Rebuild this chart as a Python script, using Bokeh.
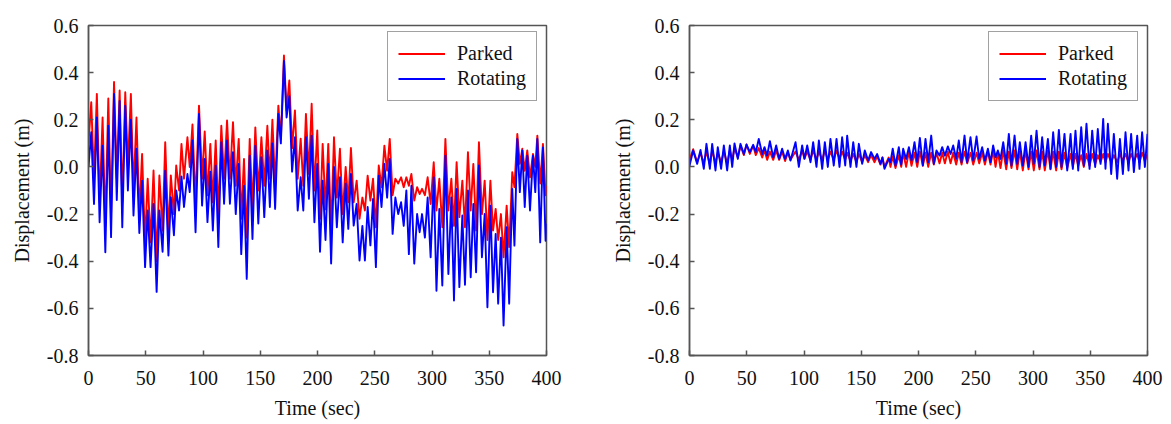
from bokeh.plotting import figure
from bokeh.layouts import row
from bokeh.models import Range1d, FixedTicker, PrintfTickFormatter, Legend, LegendItem
from bokeh.embed import file_html
from bokeh.resources import INLINE

FONT = "Liberation Serif"

# ---------------- data (extrema) ----------------
time_left = [
    0.0,
    2.4, 4.8, 7.3, 9.7, 12.3, 14.7, 17.3, 19.7, 22.3, 24.7, 27.2, 29.5, 32.1, 34.4, 37.0, 39.3,
    41.9, 44.4, 46.8, 49.4, 51.7, 54.2, 56.8, 59.5, 61.9, 64.7, 67.0, 69.8, 71.9, 74.6, 76.6, 79.1,
    81.2, 83.4, 86.4, 88.4, 90.8, 93.5, 96.5, 99.2, 101.5, 103.9, 106.4, 108.6, 111.1, 113.4, 116.0, 118.4,
    121.0, 123.5, 126.2, 128.6, 131.2, 133.4, 135.8, 138.2, 140.8, 143.2, 145.7, 148.3, 151.0, 153.5, 156.2, 158.4,
    160.6, 163.0, 165.8, 168.0, 170.7, 173.0, 175.4, 177.8, 180.3, 182.7, 185.3, 187.6, 189.9, 192.5, 194.9, 197.3,
    199.8, 202.2, 204.5, 207.0, 209.4, 211.9, 214.4, 216.9, 219.6, 222.0, 224.6, 226.9, 229.2, 231.6, 234.2, 236.7,
    239.2, 241.4, 243.8, 246.2, 248.5, 251.0, 253.5, 255.9, 258.4, 260.8, 263.1, 265.6, 268.0, 270.5, 273.0, 275.3,
    277.6, 279.8, 282.0, 284.5, 287.0, 289.2, 291.3, 293.8, 296.2, 298.8, 301.5, 303.9, 306.4, 309.0, 311.7, 314.3,
    316.9, 319.2,
    321.5, 323.9, 326.5, 328.8, 331.4, 333.8, 336.1, 338.5, 341.0, 343.6, 346.0, 348.4, 351.0, 353.3, 355.6, 357.8,
    360.2, 362.5, 365.2, 367.4, 370.1, 372.0, 374.5, 376.7, 378.9, 381.0, 383.2, 385.6, 388.2, 390.2, 392.0, 394.5,
    396.9, 399.2,
    400.0,
]

parked_left = [
    0.10,
    0.275, -0.05, 0.31, -0.15, 0.21, -0.25, 0.29, -0.2, 0.36, -0.05, 0.324, -0.15, 0.317, 0.0, 0.31, -0.1,
    0.21, -0.2, 0.055, -0.32, -0.05, -0.32, -0.015, -0.4, -0.036, -0.27, 0.105, -0.28, -0.036, -0.2, 0.006, -0.1,
    0.098, -0.05, 0.126, 0.0, 0.18, -0.15, 0.26, -0.05, 0.15, -0.12, 0.098, -0.15, 0.112, -0.2, 0.175, -0.05,
    0.197, -0.05, 0.19, -0.08, 0.119, -0.22, 0.034, -0.3, 0.119, -0.18, 0.168, -0.1, 0.126, -0.08, 0.175, -0.05,
    0.2, -0.08, 0.26, 0.12, 0.473, 0.24, 0.367, 0.08, 0.24, -0.05, 0.12, -0.08, 0.225, -0.03, 0.268, -0.1,
    0.155, -0.22, 0.098, -0.18, 0.098, -0.27, 0.126, -0.13, 0.077, -0.2, 0.0, -0.15, 0.08, -0.15, -0.058, -0.22,
    -0.13, -0.185, -0.037, -0.143, -0.05, -0.256, 0.006, -0.086, 0.09, -0.016, 0.119, -0.12, -0.05, -0.07, -0.044, -0.086,
    -0.044, -0.08, -0.03, -0.143, -0.086, -0.115, -0.093, -0.12, -0.044, -0.157, 0.02, -0.185, -0.05, -0.256, 0.119, -0.185,
    -0.05, -0.25,
    0.02, -0.213, -0.058, -0.256, 0.063, -0.185, 0.013, -0.27, 0.105, -0.2, -0.058, -0.31, -0.058, -0.27, -0.178, -0.31,
    -0.2, -0.383, -0.164, -0.34, -0.022, -0.086, 0.14, 0.013, 0.077, -0.016, 0.07, -0.044, 0.055, 0.0, 0.133, -0.07,
    0.098, -0.12,
    -0.08,
]

rotating_left = [
    0.0,
    0.147, -0.157, 0.21, -0.235, 0.09, -0.362, 0.175, -0.298, 0.31, -0.14, 0.28, -0.256, 0.26, -0.1, 0.2, -0.206,
    0.077, -0.28, -0.058, -0.425, -0.185, -0.425, -0.157, -0.53, -0.185, -0.36, -0.016, -0.376, -0.128, -0.29, -0.1, -0.185,
    -0.04, -0.17, -0.03, -0.107, 0.112, -0.277, 0.225, -0.164, 0.034, -0.234, -0.02, -0.27, 0.006, -0.34, 0.105, -0.156,
    0.112, -0.156, 0.063, -0.2, 0.013, -0.37, -0.08, -0.475, 0.048, -0.306, 0.09, -0.24, 0.041, -0.213, 0.07, -0.17,
    0.1, -0.178, 0.225, 0.1, 0.45, 0.21, 0.3, -0.02, 0.126, -0.185, -0.044, -0.185, 0.126, -0.135, 0.133, -0.235,
    0.013, -0.36, -0.058, -0.31, 0.013, -0.41, 0.0, -0.256, -0.044, -0.32, -0.07, -0.263, -0.03, -0.249, -0.157, -0.397,
    -0.25, -0.397, -0.17, -0.333, -0.136, -0.425, -0.037, -0.17, 0.013, -0.13, 0.034, -0.284, -0.13, -0.2, -0.15, -0.25,
    -0.1, -0.37, -0.08, -0.41, -0.2, -0.277, -0.2, -0.3, -0.13, -0.383, -0.044, -0.525, -0.178, -0.503, 0.048, -0.454,
    -0.13, -0.567,
    -0.093, -0.51, -0.206, -0.5, -0.1, -0.468, -0.157, -0.447, 0.006, -0.383, -0.2, -0.595, -0.164, -0.532, -0.284, -0.58,
    -0.3, -0.673, -0.256, -0.58, -0.093, -0.334, 0.119, -0.107, 0.07, -0.17, 0.048, -0.185, 0.048, -0.107, 0.119, -0.32,
    0.083, -0.313,
    -0.24,
]

time_right = [
    0.0, 3.2, 6.7, 9.6, 12.5, 14.8, 17.8, 19.8, 22.7, 24.7, 27.6, 30.0, 32.9, 35.2, 37.3, 39.3,
    42.2, 44.5, 47.5, 49.8, 52.7, 55.6, 57.9, 60.5, 63.5, 65.5, 67.8, 70.2, 73.1, 75.7, 78.3, 80.9,
    83.5, 85.9, 88.2, 92.6, 95.5, 98.4, 100.4, 102.8, 105.7, 108.0, 110.9, 113.0, 115.9, 118.2, 120.8, 123.1,
    126.0, 128.4, 131.0, 133.3, 136.0, 137.7, 140.6, 143.0, 145.8, 147.9, 150.8, 153.1, 156.0, 158.6, 161.6, 163.9,
    166.8, 168.5, 170.3, 174.0, 175.5, 177.5, 179.9, 182.8, 184.9, 186.6, 189.2, 191.6, 193.9, 196.5, 198.9, 201.2,
    203.8, 206.1, 208.5, 211.1, 213.4, 215.7, 218.4, 220.7, 223.0, 225.6, 228.0, 230.3, 232.9, 235.2, 237.6, 240.2,
    242.5, 245.4, 247.8, 250.7, 253.0, 255.6, 258.0, 260.6, 262.9, 265.2, 267.3, 269.3, 271.6, 274.0, 276.6, 278.9,
    281.2, 283.9, 286.2, 288.5, 291.1, 293.5, 296.1, 298.4, 300.7, 303.1, 305.7, 308.0, 310.3, 313.0, 315.3, 317.6,
    320.2, 322.6, 324.9, 327.5, 329.9, 332.8, 334.8, 337.1, 339.5, 342.1, 344.4, 346.7, 349.4, 351.7, 354.3, 356.6,
    359.0, 361.3, 363.3, 365.4, 368.3, 370.6, 373.5, 375.9, 378.5, 380.8, 383.4, 385.7, 388.1, 391.0, 393.0, 395.3,
    397.7, 400.0,
]

parked_right = [
    0.03, 0.075, 0.02, 0.06, 0.015, 0.065, 0.01, 0.07, 0.015, 0.06, 0.02, 0.065, 0.015, 0.07, 0.03, 0.08,
    0.04, 0.09, 0.05, 0.095, 0.055, 0.09, 0.05, 0.08, 0.04, 0.07, 0.03, 0.065, 0.03, 0.07, 0.03, 0.065,
    0.025, 0.06, 0.03, 0.065, 0.03, 0.07, 0.035, 0.065, 0.03, 0.07, 0.03, 0.065, 0.03, 0.07, 0.03, 0.065,
    0.03, 0.07, 0.035, 0.065, 0.03, 0.06, 0.025, 0.055, 0.02, 0.055, 0.02, 0.05, 0.02, 0.05, 0.02, 0.045,
    0.01, 0.04, 0.0, 0.04, 0.0, 0.045, -0.005, 0.05, 0.0, 0.06, 0.0, 0.065, 0.005, 0.06, 0.0, 0.065,
    0.005, 0.06, 0.0, 0.06, 0.01, 0.06, 0.015, 0.06, 0.015, 0.065, 0.015, 0.06, 0.01, 0.06, 0.01, 0.065,
    0.015, 0.06, 0.01, 0.06, 0.015, 0.06, 0.01, 0.065, 0.01, 0.07, 0.0, 0.065, -0.005, 0.07, -0.01, 0.065,
    -0.005, 0.07, -0.01, 0.065, -0.015, 0.07, -0.01, 0.065, -0.015, 0.07, -0.01, 0.065, -0.015, 0.07, -0.01, 0.065,
    -0.015, 0.065, -0.01, 0.06, -0.005, 0.055, 0.0, 0.055, 0.005, 0.05, 0.0, 0.055, 0.005, 0.055, 0.01, 0.05,
    0.02, 0.055, 0.02, 0.055, 0.02, 0.05, 0.02, 0.055, 0.025, 0.055, 0.02, 0.055, 0.025, 0.055, 0.02, 0.06,
    0.025, 0.055,
]

rotating_right = [
    0.005, 0.07, 0.013, 0.072, -0.008, 0.098, -0.008, 0.098, -0.015, 0.084, -0.008, 0.091, -0.015, 0.091, 0.0, 0.1,
    0.034, 0.098, 0.055, 0.095, 0.063, 0.094, 0.063, 0.119, 0.055, 0.084, 0.048, 0.109, 0.041, 0.091, 0.034, 0.077,
    0.034, 0.07, 0.027, 0.105, 0.0, 0.091, 0.034, 0.091, 0.02, 0.105, 0.0, 0.112, -0.008, 0.105, 0.0, 0.119,
    0.006, 0.119, 0.0, 0.126, 0.006, 0.133, 0.0, 0.105, 0.0, 0.098, 0.013, 0.07, 0.027, 0.063, 0.034, 0.055,
    0.013, 0.04, -0.008, 0.034, 0.02, 0.077, 0.006, 0.084, 0.01, 0.077, 0.034, 0.084, 0.027, 0.105, 0.02, 0.123,
    0.006, 0.119, 0.02, 0.133, 0.013, 0.07, 0.048, 0.084, 0.048, 0.087, 0.055, 0.091, 0.034, 0.112, 0.02, 0.133,
    0.02, 0.126, 0.027, 0.129, 0.034, 0.084, 0.027, 0.077, 0.02, 0.091, 0.041, 0.07, 0.034, 0.105, 0.013, 0.14,
    0.006, 0.133, 0.013, 0.105, 0.006, 0.105, 0.0, 0.133, 0.013, 0.154, 0.0, 0.126, 0.006, 0.119, -0.008, 0.147,
    0.0, 0.157, 0.0, 0.14, -0.015, 0.14, -0.008, 0.154, -0.015, 0.169, 0.006, 0.183, -0.008, 0.154, 0.0, 0.161,
    0.013, 0.204, -0.008, 0.183, -0.03, 0.14, -0.05, 0.119, -0.03, 0.147, -0.015, 0.14, -0.022, 0.133, -0.008, 0.147,
    0.0, 0.14,
]

x_ticks = [0, 50, 100, 150, 200, 250, 300, 350, 400]
y_ticks = [-0.8, -0.6, -0.4, -0.2, 0.0, 0.2, 0.4, 0.6]
series_labels = ["Parked", "Rotating"]
x_title = "Time (sec)"
y_title = "Displacement (m)"

AXIS_COLOR = "#555555"


def make_fig(t, parked, rotating, left_border, right_border):
    p = figure(frame_width=458, frame_height=330,
               min_border_left=left_border, min_border_right=right_border,
               min_border_top=25, min_border_bottom=69,
               x_range=Range1d(0, 400), y_range=Range1d(-0.8, 0.6),
               output_backend="svg", toolbar_location=None,
               background_fill_color="white", border_fill_color="white")
    p.grid.visible = False
    p.outline_line_color = AXIS_COLOR
    p.outline_line_width = 1.5
    p.outline_line_alpha = 1.0

    p.xaxis.ticker = FixedTicker(ticks=x_ticks)
    p.yaxis.ticker = FixedTicker(ticks=y_ticks)
    p.yaxis.formatter = PrintfTickFormatter(format="%.1f")
    for ax in (p.xaxis[0], p.yaxis[0]):
        ax.axis_line_color = AXIS_COLOR
        ax.axis_line_width = 1.5
        ax.major_tick_line_color = AXIS_COLOR
        ax.major_tick_line_width = 1.5
        ax.major_tick_in = 5
        ax.major_tick_out = 0
        ax.minor_tick_line_color = None
        ax.major_label_text_font = FONT
        ax.major_label_text_font_size = "20px"
        ax.major_label_text_color = "#111111"
        ax.axis_label_text_font = FONT
        ax.axis_label_text_font_size = "20px"
        ax.axis_label_text_font_style = "normal"
        ax.axis_label_text_color = "#111111"
    p.xaxis.axis_label = x_title
    p.yaxis.axis_label = y_title
    p.xaxis.major_label_standoff = 15
    p.xaxis.axis_label_standoff = 9
    p.yaxis.major_label_standoff = 10
    p.yaxis.axis_label_standoff = 11

    r1 = p.line(t, parked, line_color="#ff0000", line_width=1.9, line_join="round")
    r2 = p.line(t, rotating, line_color="#0000ff", line_width=1.9, line_join="round")

    legend = Legend(items=[LegendItem(label=series_labels[0], renderers=[r1]),
                           LegendItem(label=series_labels[1], renderers=[r2])],
                    location=(299, 254), orientation="vertical",
                    label_text_font=FONT, label_text_font_size="20px",
                    label_text_color="#111111",
                    glyph_width=47, glyph_height=23, label_height=23,
                    label_standoff=12, padding=10, spacing=2, margin=0,
                    border_line_color="#444444", border_line_width=1.5,
                    background_fill_color="white", background_fill_alpha=1.0)
    p.add_layout(legend)
    return p


p_left = make_fig(time_left, parked_left, rotating_left, 88, 39)
p_right = make_fig(time_right, parked_right, rotating_right, 104, 24)

layout = row(p_left, p_right)
open("out.html", "w").write(file_html(layout, INLINE))
